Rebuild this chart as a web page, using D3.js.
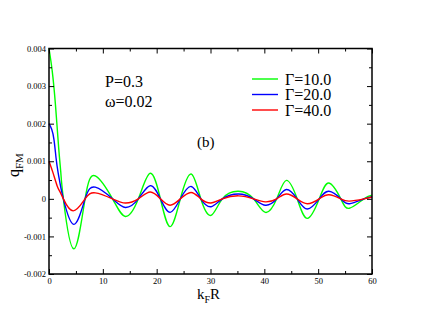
<!DOCTYPE html>
<html>
<head>
<meta charset="utf-8">
<script src="https://cdn.jsdelivr.net/npm/d3@7.9.0/dist/d3.min.js"></script>
<style>
  body { margin: 0; background: #fff; }
  svg { display: block; }
  svg text { font-family: "Liberation Serif", "Times New Roman", Times, "DejaVu Serif", serif; }
</style>
</head>
<body>
<div id="chart"></div>
<script>
// k_F R positions (shared) and q_FM values in units of 1e-3
const kGreen = [0, 0.6, 1.2, 1.8, 2.2, 2.67, 4.6, 6.7, 8.6, 11.8, 14.2, 16.6, 18.8, 20.7, 22.5, 24.4, 26.4, 28.2, 30.1, 32.2, 35.2, 38.0, 40.2, 42.3, 44.1, 46.1, 48.0, 50.2, 52.0, 54.2, 55.8, 58.5, 60];
const gamma10 = [4.0, 3.4, 2.5, 1.35, 0.69, 0, -1.33, 0, 0.61, 0, -0.47, 0, 0.68, 0, -0.74, 0, 0.66, 0, -0.44, 0, 0.20, 0, -0.36, 0, 0.49, 0, -0.52, 0, 0.42, 0, -0.25, 0, 0.10];

const kBlue = [0, 0.5, 0.93, 1.3, 1.7, 2.2, 2.67, 4.6, 6.7, 8.6, 11.8, 14.2, 16.6, 18.8, 20.7, 22.5, 24.4, 26.4, 28.2, 30.1, 32.2, 35.2, 38.0, 40.2, 42.3, 44.1, 46.1, 48.0, 50.2, 52.0, 54.2, 55.8, 58.5, 60];
const gamma20 = [2.0, 1.85, 1.57, 1.1, 0.69, 0.3, 0, -0.68, 0, 0.31, 0, -0.23, 0, 0.35, 0, -0.36, 0, 0.33, 0, -0.21, 0, 0.13, 0, -0.17, 0, 0.25, 0, -0.27, 0, 0.20, 0, -0.13, 0, 0.06];

const kRed = [0, 0.75, 1.5, 2.0, 2.67, 4.5, 6.7, 8.6, 11.8, 14.2, 16.6, 18.8, 20.7, 22.5, 24.4, 26.4, 28.2, 30.1, 32.2, 35.2, 38.0, 40.2, 42.3, 44.1, 46.1, 48.0, 50.2, 52.0, 54.2, 55.8, 58.5, 60];
const gamma40 = [1.0, 0.69, 0.35, 0.2, 0, -0.32, 0, 0.16, 0, -0.11, 0, 0.18, 0, -0.17, 0, 0.17, 0, -0.11, 0, 0.08, 0, -0.08, 0, 0.13, 0, -0.13, 0, 0.11, 0, -0.06, 0, 0.05];

const seriesNames = ['Γ=10.0', 'Γ=20.0', 'Γ=40.0'];
const seriesColors = ['#00ff00', '#0000ff', '#ff0000'];
const xTicks = [0, 10, 20, 30, 40, 50, 60];
const yTicks = [-0.002, -0.001, 0, 0.001, 0.002, 0.003, 0.004];
const yTickLabels = ['-0.002', '-0.001', '0', '0.001', '0.002', '0.003', '0.004'];

const serif = '"Liberation Serif", "Times New Roman", Times, "DejaVu Serif", serif';
const width = 430, height = 332;
const margin = { top: 48.5, right: 58, bottom: 58, left: 49 };

const series = [
    { name: seriesNames[0], color: seriesColors[0], k: kGreen, v: gamma10 },
    { name: seriesNames[1], color: seriesColors[1], k: kBlue, v: gamma20 },
    { name: seriesNames[2], color: seriesColors[2], k: kRed, v: gamma40 },
].map(s => ({ ...s, points: s.k.map((k, i) => ({ k, q: s.v[i] / 1000 })) }));

const svg = d3.select('#chart').append('svg')
    .attr('width', width)
    .attr('height', height)
    .attr('font-family', serif);

const x = d3.scaleLinear().domain([0, 60]).range([margin.left, width - margin.right]);
const y = d3.scaleLinear().domain([-0.002, 0.004]).range([height - margin.bottom, margin.top]);

// curves
const line = d3.line()
    .x(d => x(d.k))
    .y(d => y(d.q))
    .curve(d3.curveNatural);

svg.append('g')
    .selectAll('path')
    .data(series)
    .join('path')
    .attr('d', d => line(d.points))
    .attr('fill', 'none')
    .attr('stroke', d => d.color)
    .attr('stroke-width', 1.4);

// axes with inward ticks (grace style)
const minorX = d3.range(0, 61, 5).filter(v => v % 10 !== 0);
const minorY = d3.range(-0.0015, 0.004, 0.001);

function tickGroup(axis, tickVals, size, fmt) {
    return axis.tickValues(tickVals).tickSize(size).tickSizeOuter(0).tickPadding(3).tickFormat(fmt);
}

const axBottom = svg.append('g').attr('transform', `translate(0,${y.range()[0]})`);
axBottom.call(tickGroup(d3.axisBottom(x), xTicks, -5, d3.format('d')));
axBottom.append('g').call(tickGroup(d3.axisBottom(x), minorX, -3, ''));

const axTop = svg.append('g').attr('transform', `translate(0,${y.range()[1]})`);
axTop.call(tickGroup(d3.axisTop(x), xTicks, -5, ''));
axTop.append('g').call(tickGroup(d3.axisTop(x), minorX, -3, ''));

const axLeft = svg.append('g').attr('transform', `translate(${x.range()[0]},0)`);
axLeft.call(tickGroup(d3.axisLeft(y), yTicks, -5, (d, i) => yTickLabels[i]));
axLeft.append('g').call(tickGroup(d3.axisLeft(y), minorY, -3, ''));

const axRight = svg.append('g').attr('transform', `translate(${x.range()[1]},0)`);
axRight.call(tickGroup(d3.axisRight(y), yTicks, -5, ''));
axRight.append('g').call(tickGroup(d3.axisRight(y), minorY, -3, ''));

svg.selectAll('.domain').remove();
svg.selectAll('g[font-family]').attr('font-family', serif);
svg.selectAll('.tick line').attr('stroke', '#000').attr('stroke-width', 1);
svg.selectAll('.tick text')
    .attr('font-size', 8.5)
    .attr('font-family', serif)
    .attr('fill', '#000');
axBottom.selectAll('.tick text').attr('y', 10).attr('dy', 0);

// frame
svg.append('rect')
    .attr('x', x.range()[0])
    .attr('y', y.range()[1])
    .attr('width', x.range()[1] - x.range()[0])
    .attr('height', y.range()[0] - y.range()[1])
    .attr('fill', 'none')
    .attr('stroke', '#000')
    .attr('stroke-width', 1.5);

// axis titles
const xl = svg.append('text')
    .attr('x', 197)
    .attr('y', 299)
    .attr('font-size', 15);
xl.append('tspan').text('k');
xl.append('tspan').attr('font-size', 10).attr('dy', 4).text('F');
xl.append('tspan').attr('dy', -4).text('R');

const yl = svg.append('text')
    .attr('transform', 'translate(19,177) rotate(-90)')
    .attr('font-size', 16);
yl.append('tspan').text('q');
yl.append('tspan').attr('font-size', 11).attr('dy', 4).text('FM');

// annotations
svg.append('text').attr('x', 105).attr('y', 87).attr('font-size', 16).text('P=0.3');
svg.append('text').attr('x', 105).attr('y', 107).attr('font-size', 16).text('ω=0.02');
svg.append('text').attr('x', 197).attr('y', 147).attr('font-size', 15).text('(b)');

// legend
const legend = svg.append('g')
    .selectAll('g')
    .data(series)
    .join('g')
    .attr('transform', (d, i) => `translate(252,${79 + i * 15.5})`);
legend.append('line')
    .attr('x1', 0).attr('x2', 26)
    .attr('stroke', d => d.color)
    .attr('stroke-width', 1.4);
legend.append('text')
    .attr('x', 33)
    .attr('y', 5.5)
    .attr('font-size', 16)
    .text(d => d.name);
</script>
</body>
</html>
